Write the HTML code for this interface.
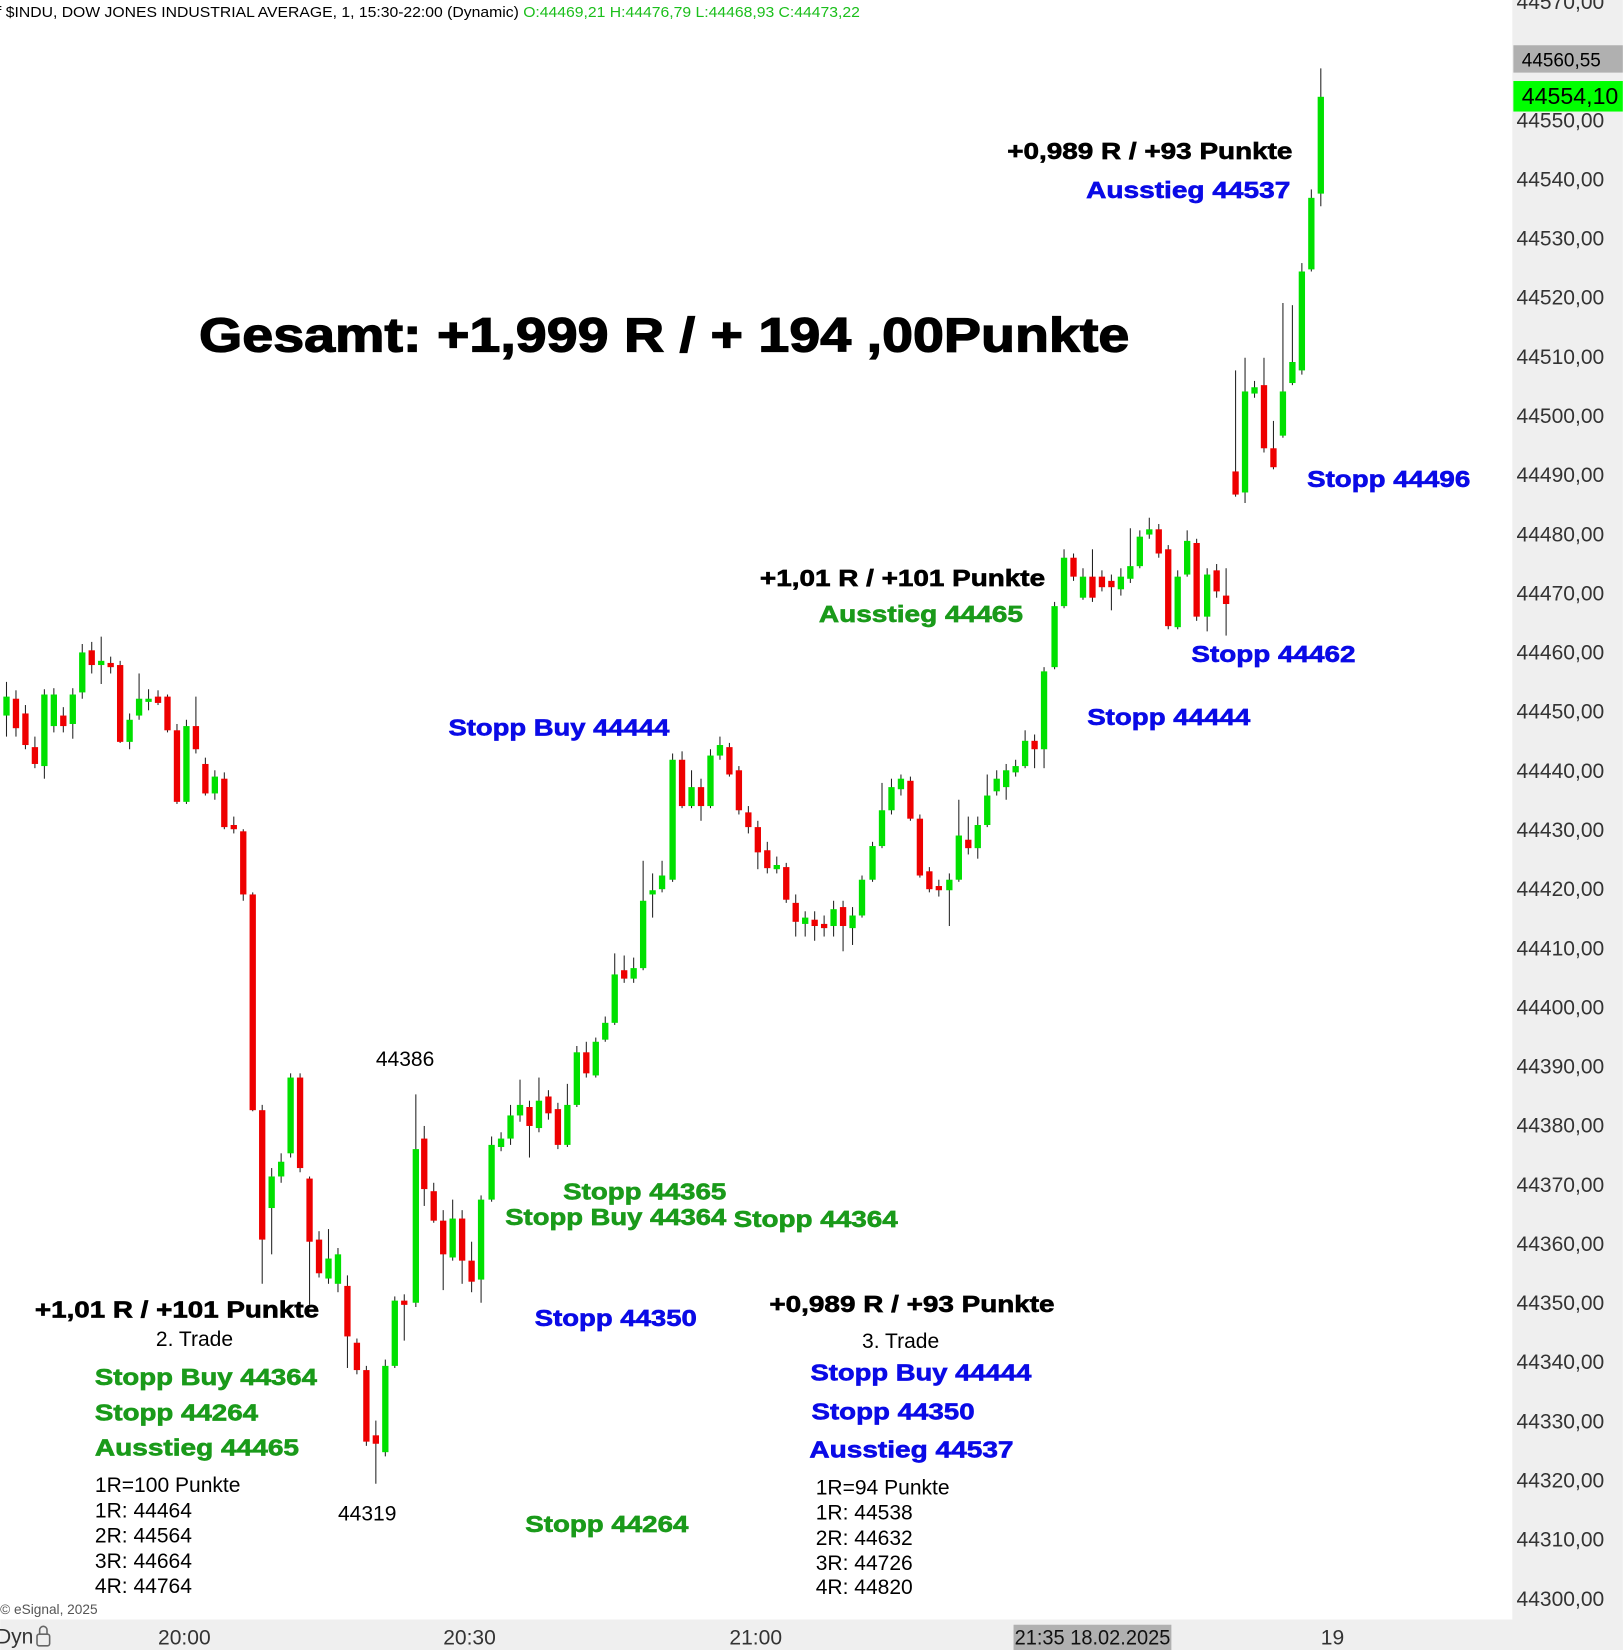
<!DOCTYPE html>
<html><head><meta charset="utf-8"><style>
html,body{margin:0;padding:0;background:#fff;overflow:hidden}
svg{display:block}
text{font-family:"Liberation Sans",Arial,sans-serif}
.b{font-weight:bold;font-size:22px;stroke-width:0.6px}
.bl{fill:#0a0ae6;stroke:#0a0ae6}.gr{fill:#1a9a1a;stroke:#1a9a1a}.bk{fill:#000;stroke:#000}
.n{font-size:20px;fill:#000}
.ax{font-size:20px;fill:#333}
</style></head><body>
<svg id="s" width="1623" height="1650" viewBox="0 0 1542 1568" xmlns="http://www.w3.org/2000/svg">
<rect x="0" y="0" width="1542" height="1568" fill="#fff"/>
<rect x="1437" y="0" width="105" height="1568" fill="#efefef"/>
<rect x="0" y="1539" width="1542" height="29" fill="#efefef"/>
<g id="c"></g>
<g id="ax"></g>
<rect x="1438" y="43" width="104" height="26" fill="#b0b0b0"/>
<text x="1446" y="63" style="font-size:18px">44560,55</text>
<rect x="1438" y="77" width="104" height="29" fill="#00ff00"/>
<text x="1446" y="99" style="font-size:22px">44554,10</text>
<text x="-3" y="16" style="font-size:14px" textLength="820" lengthAdjust="spacingAndGlyphs">f $INDU, DOW JONES INDUSTRIAL AVERAGE, 1, 15:30-22:00 (Dynamic) <tspan fill="#1bbf1b">O:44469,21 H:44476,79 L:44468,93 C:44473,22</tspan></text>
<text x="189" y="334" style="font-size:46px;font-weight:bold;stroke:#000;stroke-width:1.2px" textLength="884" lengthAdjust="spacingAndGlyphs">Gesamt: +1,999 R / + 194 ,00Punkte</text>
<text class="b bk" x="957" y="151" textLength="271" lengthAdjust="spacingAndGlyphs">+0,989 R / +93 Punkte</text>
<text class="b bl" x="1032" y="188" textLength="194" lengthAdjust="spacingAndGlyphs">Ausstieg 44537</text>
<text class="b bl" x="1242" y="463" textLength="155" lengthAdjust="spacingAndGlyphs">Stopp 44496</text>
<text class="b bk" x="722" y="557" textLength="271" lengthAdjust="spacingAndGlyphs">+1,01 R / +101 Punkte</text>
<text class="b gr" x="778" y="591" textLength="194" lengthAdjust="spacingAndGlyphs">Ausstieg 44465</text>
<text class="b bl" x="1132" y="629" textLength="156" lengthAdjust="spacingAndGlyphs">Stopp 44462</text>
<text class="b bl" x="1033" y="689" textLength="155" lengthAdjust="spacingAndGlyphs">Stopp 44444</text>
<text class="b bl" x="426" y="699" textLength="210" lengthAdjust="spacingAndGlyphs">Stopp Buy 44444</text>
<text class="n" x="357" y="1013">44386</text>
<text class="b gr" x="535" y="1140" textLength="155" lengthAdjust="spacingAndGlyphs">Stopp 44365</text>
<text class="b gr" x="480" y="1164" textLength="210" lengthAdjust="spacingAndGlyphs">Stopp Buy 44364</text>
<text class="b gr" x="697" y="1166" textLength="156" lengthAdjust="spacingAndGlyphs">Stopp 44364</text>
<text class="b bk" x="33" y="1252" textLength="270" lengthAdjust="spacingAndGlyphs">+1,01 R / +101 Punkte</text>
<text class="n" x="148" y="1279">2. Trade</text>
<text class="b gr" x="90" y="1316" textLength="211" lengthAdjust="spacingAndGlyphs">Stopp Buy 44364</text>
<text class="b gr" x="90" y="1350" textLength="155" lengthAdjust="spacingAndGlyphs">Stopp 44264</text>
<text class="b gr" x="90" y="1383" textLength="194" lengthAdjust="spacingAndGlyphs">Ausstieg 44465</text>
<text class="n" x="90" y="1418">1R=100 Punkte</text>
<text class="n" x="90" y="1442">1R: 44464</text>
<text class="n" x="90" y="1466">2R: 44564</text>
<text class="n" x="90" y="1490">3R: 44664</text>
<text class="n" x="90" y="1514">4R: 44764</text>
<text class="n" x="321" y="1445">44319</text>
<text class="b bl" x="508" y="1260" textLength="154" lengthAdjust="spacingAndGlyphs">Stopp 44350</text>
<text class="b gr" x="499" y="1456" textLength="155" lengthAdjust="spacingAndGlyphs">Stopp 44264</text>
<text class="b bk" x="731" y="1247" textLength="271" lengthAdjust="spacingAndGlyphs">+0,989 R / +93 Punkte</text>
<text class="n" x="819" y="1281">3. Trade</text>
<text class="b bl" x="770" y="1312" textLength="210" lengthAdjust="spacingAndGlyphs">Stopp Buy 44444</text>
<text class="b bl" x="771" y="1349" textLength="155" lengthAdjust="spacingAndGlyphs">Stopp 44350</text>
<text class="b bl" x="769" y="1385" textLength="194" lengthAdjust="spacingAndGlyphs">Ausstieg 44537</text>
<text class="n" x="775" y="1420">1R=94 Punkte</text>
<text class="n" x="775" y="1444">1R: 44538</text>
<text class="n" x="775" y="1468">2R: 44632</text>
<text class="n" x="775" y="1492">3R: 44726</text>
<text class="n" x="775" y="1515">4R: 44820</text>
<text x="0" y="1534" style="font-size:13px;fill:#555">© eSignal, 2025</text>
<text x="-4" y="1562" class="ax">Dyn</text>
<rect x="35" y="1553" width="12" height="11" rx="2" fill="none" stroke="#666" stroke-width="1.5"/>
<path d="M37.5 1553v-4a3.5 3.5 0 0 1 7 0v4" fill="none" stroke="#666" stroke-width="1.5"/>
<text x="150" y="1563" class="ax">20:00</text>
<text x="421" y="1563" class="ax">20:30</text>
<text x="693" y="1563" class="ax">21:00</text>
<rect x="963" y="1544" width="150" height="24" fill="#b0b0b0"/>
<text x="964" y="1563" class="ax" style="fill:#111" textLength="148" lengthAdjust="spacingAndGlyphs">21:35 18.02.2025</text>
<text x="1255" y="1563" class="ax">19</text>
</svg>
<script>
var d=[[6,'g',662,680,648,700],[15,'r',664,692,656,700],[24,'r',678,708,670,712],[33,'r',710,726,700,730],[42,'g',660,728,655,740],[51,'g',660,690,654,696],[60,'r',680,690,672,696],[69,'g',660,688,654,702],[78,'g',620,658,612,664],[87,'r',618,632,610,640],[96,'g',628,632,605,650],[105,'r',630,634,624,640],[114,'r',632,705,628,706],[123,'g',684,705,678,712],[132,'g',664,680,640,684],[141,'g',664,667,655,675],[150,'r',662,668,656,670],[159,'r',662,694,660,696],[168,'r',694,762,688,764],[177,'g',690,762,684,764],[186,'r',690,712,662,716],[195,'r',726,754,720,756],[204,'g',738,754,732,760],[213,'r',740,786,734,788],[222,'r',784,788,776,792],[231,'r',790,850,788,856],[240,'r',850,1055,848,1056],[249,'r',1055,1178,1050,1220],[258,'g',1118,1148,1110,1192],[267,'g',1104,1118,1096,1124],[276,'g',1024,1096,1020,1100],[285,'r',1024,1110,1020,1114],[294,'r',1120,1180,1118,1240],[303,'r',1178,1210,1170,1214],[312,'g',1196,1215,1168,1220],[321,'g',1192,1220,1186,1228],[330,'r',1222,1270,1212,1300],[339,'r',1276,1302,1272,1306],[348,'r',1302,1370,1298,1374],[357,'r',1364,1372,1350,1410],[366,'g',1298,1380,1292,1384],[375,'g',1236,1298,1232,1300],[384,'r',1236,1240,1230,1274],[395,'g',1092,1238,1040,1242],[403,'r',1082,1130,1070,1146],[412,'r',1132,1160,1124,1162],[421,'r',1160,1192,1150,1226],[430,'g',1158,1195,1140,1198],[439,'r',1158,1198,1150,1220],[448,'r',1198,1218,1180,1228],[457,'g',1140,1216,1136,1238],[467,'g',1088,1140,1080,1142],[476,'g',1082,1090,1076,1094],[485,'g',1060,1082,1050,1088],[494,'g',1050,1060,1026,1066],[503,'r',1052,1070,1046,1100],[512,'g',1046,1072,1024,1076],[521,'r',1042,1058,1036,1064],[530,'r',1054,1088,1048,1092],[539,'g',1050,1088,1030,1090],[548,'g',1000,1050,994,1052],[557,'r',1000,1020,990,1024],[566,'g',990,1022,986,1024],[575,'g',972,988,966,990],[584,'g',926,972,906,974],[593,'r',922,930,908,934],[602,'g',920,930,910,934],[611,'g',856,920,818,922],[620,'g',846,850,830,872],[629,'g',832,845,818,848],[639,'g',722,836,716,838],[648,'r',722,766,714,768],[657,'g',748,766,732,768],[666,'r',748,766,740,780],[675,'g',718,766,712,768],[684,'g',708,718,700,722],[693,'r',710,736,706,738],[702,'r',732,770,728,774],[711,'r',772,786,766,792],[720,'r',786,810,780,826],[729,'r',808,825,800,830],[738,'g',822,826,814,830],[747,'r',824,855,820,858],[756,'r',858,876,850,890],[765,'g',872,878,866,890],[774,'r',874,880,866,894],[783,'r',878,882,870,890],[792,'g',864,880,856,890],[801,'r',862,880,856,904],[810,'g',870,882,862,898],[819,'g',836,870,832,872],[829,'g',804,836,800,838],[838,'g',770,804,744,806],[847,'g',748,770,740,774],[856,'g',740,750,736,756],[865,'r',742,778,738,780],[874,'r',778,832,774,834],[883,'r',828,845,824,848],[892,'r',842,846,836,852],[902,'g',836,846,830,880],[911,'g',794,836,760,838],[920,'r',798,806,776,812],[929,'g',784,806,776,816],[938,'g',756,784,736,786],[947,'g',740,752,732,756],[956,'g',732,748,726,760],[965,'g',728,734,722,738],[974,'g',704,728,694,730],[983,'r',704,712,698,730],[992,'g',638,712,634,730],[1002,'g',576,634,572,636],[1011,'g',530,576,522,578],[1020,'r',530,548,526,552],[1029,'g',548,568,540,570],[1038,'r',548,568,522,572],[1047,'r',548,558,542,562],[1056,'r',552,558,546,580],[1065,'g',548,560,540,566],[1074,'g',538,550,502,554],[1083,'g',510,538,504,540],[1092,'g',503,508,492,512],[1101,'r',503,526,498,530],[1110,'r',522,595,518,598],[1119,'g',548,596,542,598],[1128,'g',514,546,504,548],[1137,'r',516,586,512,590],[1147,'g',546,586,540,600],[1156,'r',542,562,536,568],[1165,'r',566,574,540,604],[1174,'r',448,470,352,472],[1183,'g',372,468,340,478],[1192,'g',368,374,362,378],[1201,'r',366,426,340,430],[1210,'r',426,444,400,446],[1219,'g',372,414,288,416],[1228,'g',344,364,290,366],[1237,'g',258,352,250,356],[1246,'g',188,256,180,258],[1255,'g',92,184,65,196]];
var g=document.getElementById('c'),h='';
d.forEach(function(c){var col=c[1]=='g'?'#00e000':'#ee0000';
h+='<line x1="'+c[0]+'" x2="'+c[0]+'" y1="'+c[4]+'" y2="'+c[5]+'" stroke="#222" stroke-width="1"/>';
h+='<rect x="'+(c[0]-3)+'" y="'+c[2]+'" width="6" height="'+Math.max(2,c[3]-c[2])+'" fill="'+col+'"/>';});
g.innerHTML=h;
var a='';for(var p=44570;p>=44300;p-=10){var y=114+(44550-p)*5.62;a+='<text x="1441" y="'+(y+7)+'" class="ax">'+p+',00</text>';}
document.getElementById('ax').innerHTML=a;
</script>
</body></html>
